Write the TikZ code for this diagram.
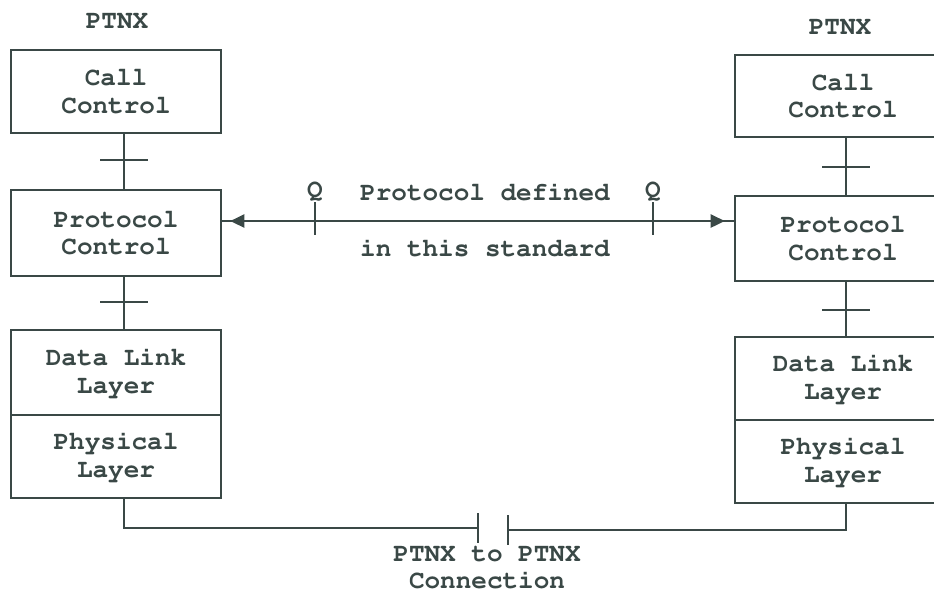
\documentclass[tikz,border=0pt]{standalone}
\usepackage[T1]{fontenc}
\usepackage{courier}
\usetikzlibrary{arrows.meta}
\definecolor{ink}{RGB}{58,72,70}

\tikzset{ every node/.style={font=\ttfamily\bfseries\fontsize{26}{27.5}\selectfont, text=ink, align=center, inner sep=0pt},
          layer/.style={draw=ink, line width=2.6pt, minimum width=210pt},
          wire/.style={draw=ink, line width=2.6pt},
          tip/.style={{Triangle[length=14pt,width=13pt]}-{Triangle[length=14pt,width=13pt]}} }

\begin{document}
\begin{tikzpicture}[x=1pt, y=-1pt]
        \clip (0,0) rectangle (934,595);
        \useasboundingbox (0,0) rectangle (934,595);

        % left PTNX
        \node (tL) at (117,22) {PTNX};
        \node[layer, minimum height=83pt] (ccL) at (116,91.5) {Call\\Control};
        \node[layer, minimum height=86pt] (pcL) at (116,233) {Protocol\\Control};
        \node[layer, minimum height=85pt] (dlL) at (116,372.5) {Data Link\\Layer};
        \node[layer, minimum height=83pt] (phL) at (116,456.5) {Physical\\Layer};

        % right PTNX
        \node (tR) at (840,28) {PTNX};
        \node[layer, minimum width=216pt, minimum height=82pt] (ccR) at (843,96) {Call\\Control};
        \node[layer, minimum width=216pt, minimum height=85pt] (pcR) at (843,238.5) {Protocol\\Control};
        \node[layer, minimum width=216pt, minimum height=83pt] (dlR) at (843,378.5) {Data Link\\Layer};
        \node[layer, minimum width=216pt, minimum height=83pt] (phR) at (843,461.5) {Physical\\Layer};

        \coordinate (axL) at (124,0);
        \coordinate (axR) at (846,0);

        % layer interfaces
        \path[wire] (ccL.south -| axL) edge (pcL.north -| axL)
                    (pcL.south -| axL) edge (dlL.north -| axL)
                    (ccR.south -| axR) edge (pcR.north -| axR)
                    (pcR.south -| axR) edge (dlR.north -| axR);

        \coordinate (iL1) at (124,160);
        \coordinate (iL2) at (124,302);
        \coordinate (iR1) at (846,167);
        \coordinate (iR2) at (846,310);
        \foreach \i in {iL1,iL2,iR1,iR2}
            \draw[wire] ([xshift=-24pt]\i) -- ([xshift=24pt]\i);

        % peer protocol
        \coordinate (arL) at (pcL.east |- 0,221);
        \coordinate (arR) at (pcR.west |- 0,221);
        \draw[wire] (arL) -- (arR);
        \draw[wire, tip, shorten <=8pt, shorten >=9pt] (arL) -- (arR);

        \coordinate (qL) at (315,221);
        \coordinate (qR) at (653,221);
        \foreach \q in {qL,qR} {
            \draw[wire] ([yshift=19pt]\q) -- ([yshift=-14pt]\q);
            \node[anchor=base] at ([yshift=24pt]\q) {Q};
        }

        \node (def) at (485,192) {Protocol defined};
        \node (std) at (485,248) {in this standard};

        % physical connection
        \coordinate (plL) at (478,528);
        \coordinate (plR) at (508,530);
        \draw[wire] (phL.south -| axL) |- (plL);
        \draw[wire] (plR) -| (phR.south -| axR);
        \foreach \p in {plL,plR}
            \draw[wire] ([yshift=15pt]\p) -- ([yshift=-15pt]\p);

        \node (conn) at (487,568) {PTNX to PTNX\\Connection};
    \end{tikzpicture}
\end{document}
